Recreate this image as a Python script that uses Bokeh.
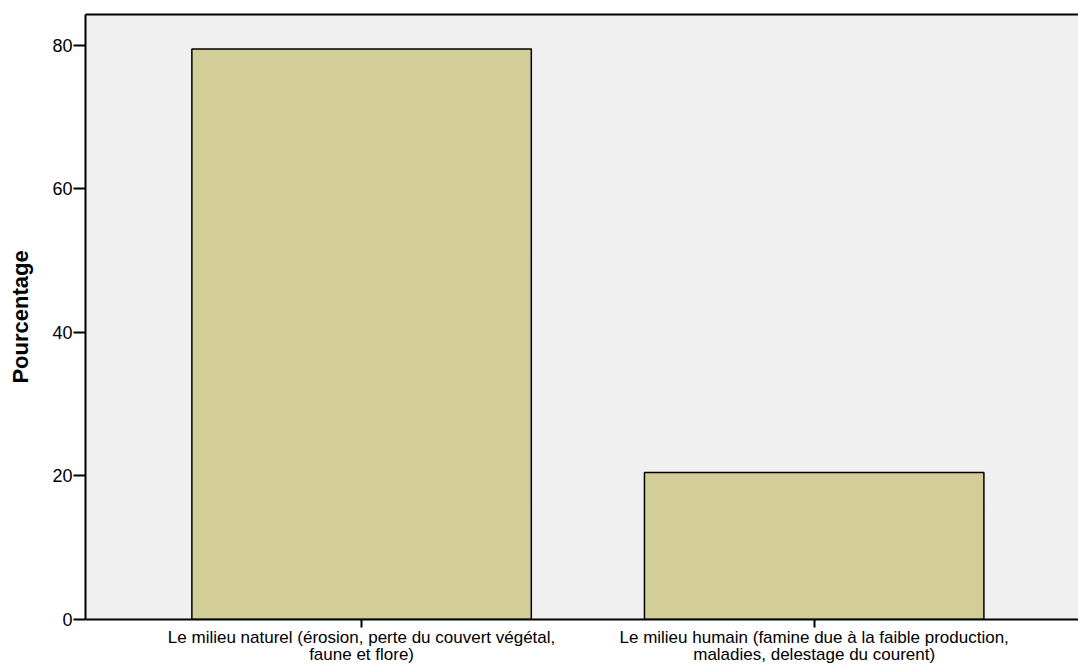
from bokeh.plotting import figure
from bokeh.models import ColumnDataSource, FixedTicker, LinearAxis, Range1d
from bokeh.embed import file_html
from bokeh.resources import INLINE

categories = [
    "Le milieu naturel (érosion, perte du couvert végétal,\nfaune et flore)",
    "Le milieu humain (famine due à la faible production,\nmaladies, delestage du courent)",
]
percentages = [79.5, 20.5]
y_ticks = [0, 20, 40, 60, 80]

positions = list(range(1, len(categories) + 1))
source = ColumnDataSource(data=dict(x=positions, top=percentages))

FONT = "Liberation Sans"

p = figure(
    width=1078, height=666,
    output_backend="svg", toolbar_location=None,
    x_range=Range1d(0.39, 2.584), y_range=Range1d(0, 84.3),
    min_border_left=85, min_border_right=0, min_border_top=14, min_border_bottom=47,
)
p.background_fill_color = "#f0f0f0"
p.border_fill_color = "white"
p.outline_line_color = None
p.xgrid.visible = False
p.ygrid.visible = False

p.vbar(x="x", top="top", width=0.75, source=source,
       fill_color="#d3ce98", line_color="black", line_width=1.5)

# x axis
xa = p.xaxis[0]
xa.ticker = FixedTicker(ticks=positions)
xa.major_label_overrides = {pos: lab for pos, lab in zip(positions, categories)}
xa.major_label_text_font = FONT
xa.major_label_text_font_size = "17px"
xa.major_label_text_line_height = 0.9
xa.major_label_text_color = "black"
xa.major_tick_in = 0
xa.major_tick_out = 8
xa.major_tick_line_width = 2
xa.minor_tick_line_color = None
xa.axis_line_width = 2
xa.axis_line_color = "black"
xa.major_label_standoff = 0

# y axis
ya = p.yaxis[0]
ya.ticker = FixedTicker(ticks=y_ticks)
ya.axis_label = "Pourcentage"
ya.axis_label_text_font = FONT
ya.axis_label_text_font_size = "22px"
ya.axis_label_text_font_style = "bold"
ya.axis_label_text_color = "black"
ya.axis_label_standoff = 16
ya.major_label_text_font = FONT
ya.major_label_text_font_size = "18px"
ya.major_label_text_color = "black"
ya.major_tick_in = 0
ya.major_tick_out = 12
ya.major_tick_line_width = 2
ya.minor_tick_line_color = None
ya.axis_line_width = 2
ya.axis_line_color = "black"
ya.major_label_standoff = 1

# top border line
top_axis = LinearAxis(ticker=FixedTicker(ticks=[]), major_label_text_font_size="0px",
                      axis_line_width=2, axis_line_color="black",
                      major_tick_line_color=None, minor_tick_line_color=None)
p.add_layout(top_axis, "above")

open("out.html", "w").write(file_html(p, INLINE))
